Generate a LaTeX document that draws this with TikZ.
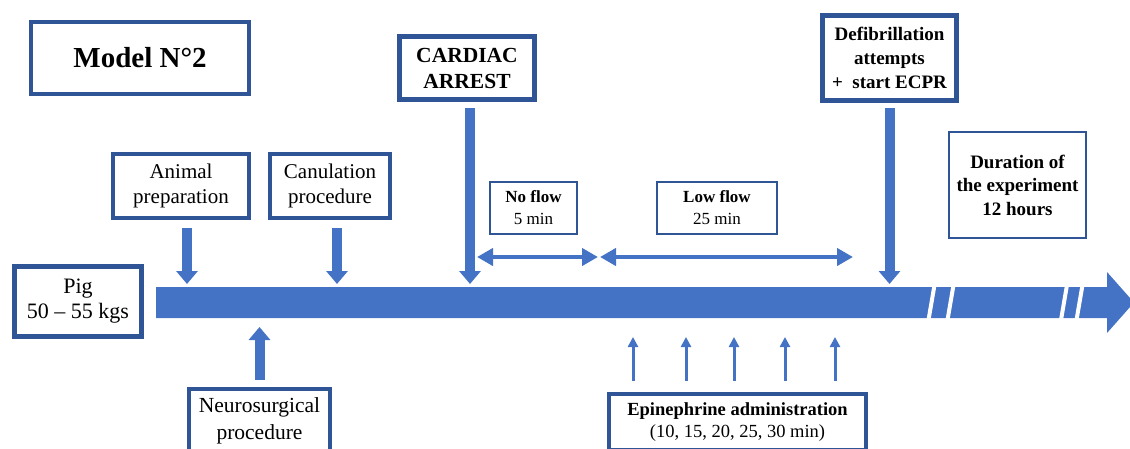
\documentclass[tikz,border=0pt]{standalone}
\usepackage{fontspec}
\setmainfont{Liberation Serif}
\usetikzlibrary{arrows.meta}
\definecolor{barblue}{HTML}{4472C4}
\definecolor{boxblue}{HTML}{2F5597}

\tikzset{
  thickbox/.style={draw=boxblue, line width=4.5pt, fill=white, align=center, inner sep=0pt},
  thinbox/.style={draw=boxblue, line width=2pt, fill=white, align=center, inner sep=0pt},
  blockarrow/.style={draw=barblue, line width=10pt, -{Triangle[width=21pt,length=13pt]}},
  epiarrow/.style={draw=barblue, line width=3pt, -{Triangle[width=10pt,length=10pt]}},
  flowarrow/.style={draw=barblue, line width=4pt, {Triangle[width=17pt,length=16pt]}-{Triangle[width=17pt,length=16pt]}},
}

\begin{document}
\begin{tikzpicture}[x=1pt, y=-1pt]
\useasboundingbox (0,0) rectangle (1130,448);

% Time line
\fill[barblue] (156,287) -- (1107,287) -- (1107,272) -- (1134,302.5) -- (1107,333) -- (1107,318) -- (156,318) -- cycle;
\foreach \x in {931.5,950.5,1064,1079.5}
  \draw[white, line width=4pt] ({\x+3},285) -- ({\x-3},320);
\coordinate (bartop) at (0,287);
\coordinate (barbot) at (0,318);

% Boxes
\node[thickbox, minimum width=218pt, minimum height=72pt, font=\fontsize{29}{33}\selectfont\bfseries] (model) at (140,58) {Model N°2};
\node[thickbox, minimum width=136pt, minimum height=64pt, font=\fontsize{21}{25}\selectfont] (animal) at (181,186) {Animal\\preparation};
\node[thickbox, minimum width=120pt, minimum height=64pt, font=\fontsize{21}{25}\selectfont] (canul) at (330,186) {Canulation\\procedure};
\node[thickbox, minimum width=135pt, minimum height=63pt, font=\fontsize{21.5}{26}\selectfont\bfseries] (cardiac) at (467,68) {CARDIAC\\ARREST};
\node[thinbox, minimum width=87pt, minimum height=52pt, font=\fontsize{17}{22}\selectfont] (noflow) at (533.5,208) {\textbf{No flow}\\5 min};
\node[thinbox, minimum width=120pt, minimum height=52pt, font=\fontsize{17}{22}\selectfont] (lowflow) at (717,208) {\textbf{Low flow}\\25 min};
\node[thickbox, minimum width=134pt, minimum height=85pt, font=\fontsize{19}{24}\selectfont\bfseries] (defib) at (889.5,58) {Defibrillation\\attempts\\+\ \ start ECPR};
\node[thinbox, minimum width=137pt, minimum height=106pt, font=\fontsize{19}{23.5}\selectfont\bfseries] (duration) at (1017.5,185) {Duration of\\the experiment\\12 hours};
\node[thickbox, minimum width=127pt, minimum height=70pt, font=\fontsize{22}{25}\selectfont] (pig) at (78,301.5) {Pig\\50 – 55 kgs};
\node[thickbox, minimum width=141pt, minimum height=64pt, font=\fontsize{21.5}{27}\selectfont] (neuro) at (259.5,421) {Neurosurgical\\procedure};
\node[thickbox, minimum width=257pt, minimum height=56pt, font=\fontsize{18.5}{22}\selectfont] (epi) at (737.5,422) {\textbf{Epinephrine administration}\\(10, 15, 20, 25, 30 min)};

% Events on the time line
\draw[blockarrow, shorten <=8pt, shorten >=3pt] ([xshift=6pt]animal.south) -- ([xshift=6pt]animal.south |- bartop);
\draw[blockarrow, shorten <=8pt, shorten >=3pt] ([xshift=7pt]canul.south) -- ([xshift=7pt]canul.south |- bartop);
\draw[blockarrow, shorten <=6pt, shorten >=3pt] ([xshift=3pt]cardiac.south) -- ([xshift=3pt]cardiac.south |- bartop);
\draw[blockarrow, shorten <=5pt, shorten >=3pt] (defib.south) -- (defib.south |- bartop);
\draw[blockarrow, shorten <=7pt, shorten >=9pt] (neuro.north) -- (neuro.north |- barbot);
\foreach \x in {633,686,734,785,835} {
  \coordinate (ex) at (\x,0);
  \draw[epiarrow, shorten <=11pt, shorten >=19pt] (epi.north -| ex) -- (barbot -| ex);
}

% Flow periods
\coordinate (nfstart) at (477,257);
\coordinate (nfend) at (598,257);
\coordinate (lfstart) at (600,257);
\coordinate (lfend) at (853,257);
\draw[flowarrow] (nfstart) -- (nfend);
\draw[flowarrow] (lfstart) -- (lfend);
\end{tikzpicture}
\end{document}
